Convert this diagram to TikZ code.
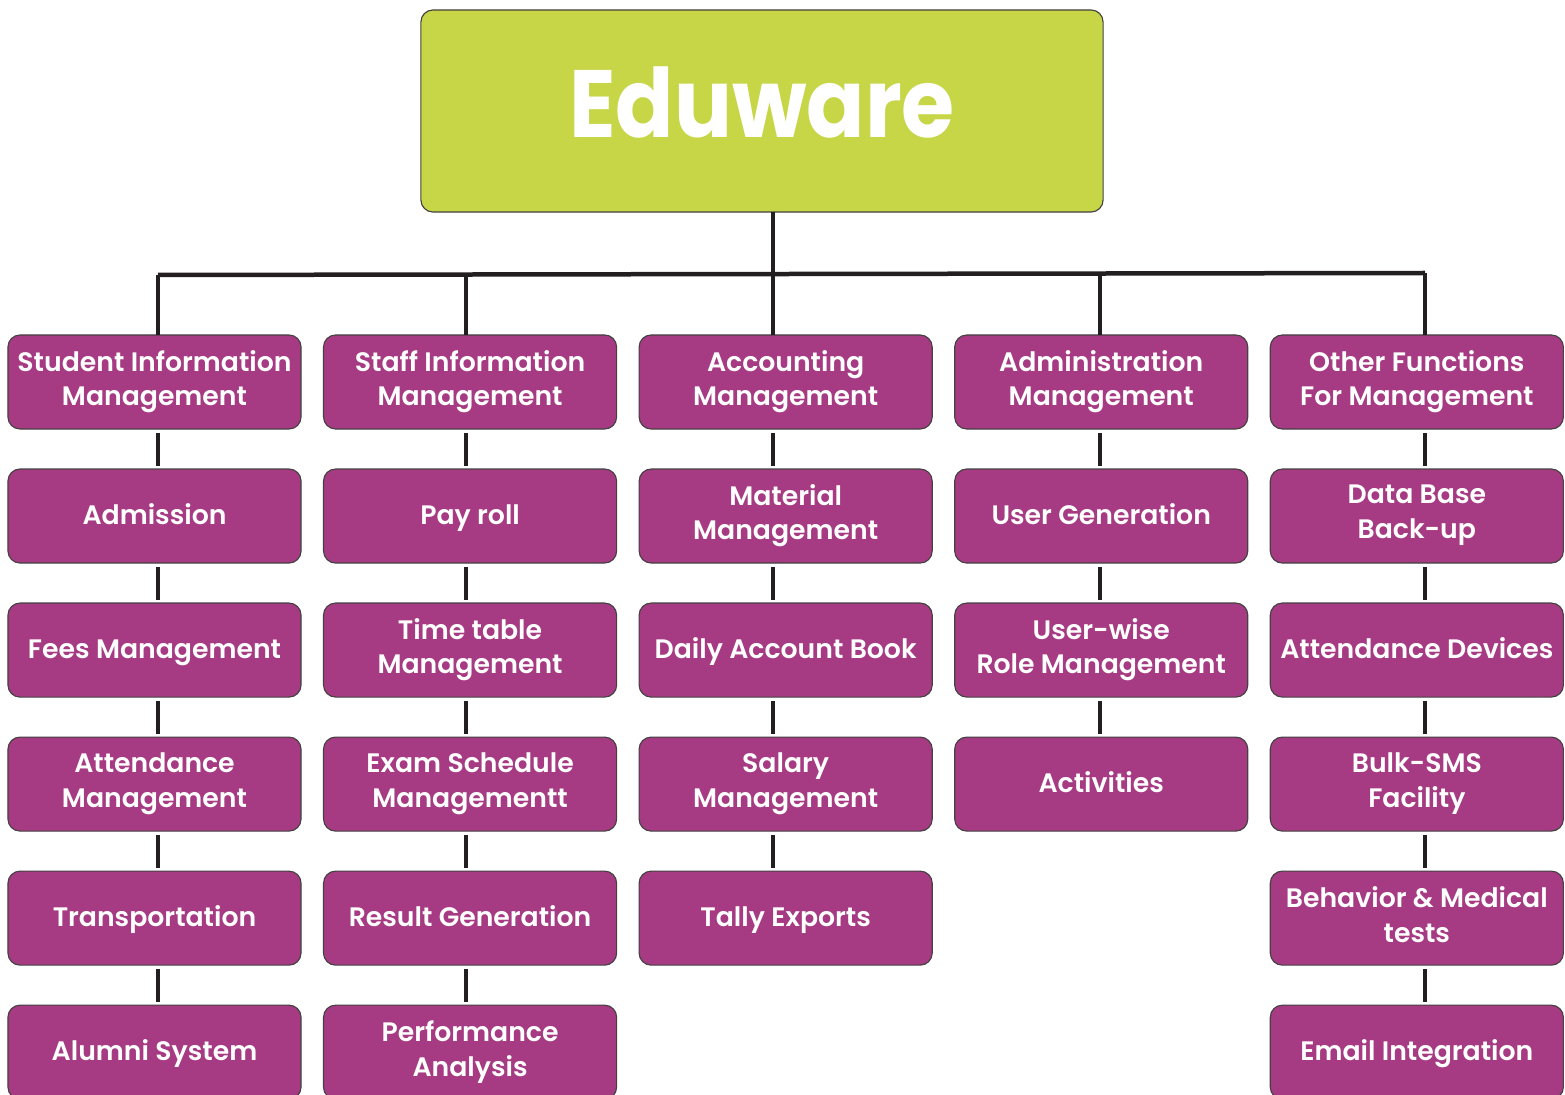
\documentclass[tikz,border=0pt]{standalone}
\usepackage{fontspec}
\setmainfont{Poppins}[UprightFont={* SemiBold}, BoldFont={* Bold}]
\usetikzlibrary{positioning}

\definecolor{plum}{HTML}{A63B83}
\definecolor{lime}{HTML}{C6D646}
\definecolor{ink}{HTML}{231F20}

% Strut that gives every label the same top and bottom line
\newcommand{\boxstrut}{\rule[-0.2cm]{0pt}{0.8cm}}

\begin{document}
\begin{tikzpicture}[x=0.025cm, y=-0.025cm,
    % Styles for the root box, the module boxes and the wires
    root/.style={
      rectangle, rounded corners=0.3cm, draw=ink!85, line width=0.8pt,
      fill=lime, text=white, minimum width=17.05cm, minimum height=5.05cm,
      outer sep=0pt, text height=1.8cm, text depth=0.5cm,
      font=\bfseries\fontsize{68}{80}\selectfont
    },
    module/.style={
      rectangle, rounded corners=0.3cm, draw=ink!85, line width=0.8pt,
      fill=plum, text=white, minimum width=7.325cm, minimum height=2.35cm,
      inner sep=0pt, outer sep=0pt, align=center,
      font=\fontsize{19}{24.8}\selectfont,
      execute at begin node=\boxstrut, execute at end node=\boxstrut
    },
    wire/.style={draw=ink, line width=3.2pt},
    link/.style={wire, shorten <=0.1cm, shorten >=0.075cm}
]
\useasboundingbox (0,0) rectangle (1565,1095);
\clip (0,0) rectangle (1565,1095);

% Root node
\node [root] (eduware) at (762,111) {\scalebox{0.9}[1]{Eduware}};

% Top row of modules
\node [module] (student) at (154.5,382) {Student Information\\Management};
\node [module, right=0.5625cm of student] (staff) {Staff Information\\Management};
\node [module, right=0.5625cm of staff] (accounting) {Accounting\\Management};
\node [module, right=0.5625cm of accounting] (administration) {Administration\\Management};
\node [module, right=0.5625cm of administration] (other) {Other Functions\\For Management};

% Column 1: student information
\node [module, below=1cm of student] (admission) {Admission};
\node [module, below=1cm of admission] (fees) {Fees Management};
\node [module, below=1cm of fees] (attendance) {Attendance\\Management};
\node [module, below=1cm of attendance] (transport) {Transportation};
\node [module, below=1cm of transport] (alumni) {Alumni System};

% Column 2: staff information
\node [module, below=1cm of staff] (payroll) {Pay roll};
\node [module, below=1cm of payroll] (timetable) {Time table\\Management};
\node [module, below=1cm of timetable] (exam) {Exam Schedule\\Managementt};
\node [module, below=1cm of exam] (result) {Result Generation};
\node [module, below=1cm of result] (performance) {Performance\\Analysis};

% Column 3: accounting
\node [module, below=1cm of accounting] (material) {Material\\Management};
\node [module, below=1cm of material] (daybook) {Daily Account Book};
\node [module, below=1cm of daybook] (salary) {Salary\\Management};
\node [module, below=1cm of salary] (tally) {Tally Exports};

% Column 4: administration
\node [module, below=1cm of administration] (usergen) {User Generation};
\node [module, below=1cm of usergen] (roles) {User-wise\\Role Management};
\node [module, below=1cm of roles] (activities) {Activities};

% Column 5: other functions
\node [module, below=1cm of other] (backup) {Data Base\\Back-up};
\node [module, below=1cm of backup] (devices) {Attendance Devices};
\node [module, below=1cm of devices] (sms) {Bulk-SMS\\Facility};
\node [module, below=1cm of sms] (medical) {Behavior \& Medical\\tests};
\node [module, below=1cm of medical] (email) {Email Integration};

% Bus under the root box, one drop point per column
\coordinate (bus1) at (158,275);
\coordinate (bus2) at (466,275);
\coordinate (bus3) at (773,274);
\coordinate (bus4) at (1100,273);
\coordinate (bus5) at (1425,273);

\draw [wire] (bus3 |- eduware.south) -- (bus3);
\draw [wire] (bus1) -- (bus5);
\draw [wire] (bus1) -- (bus1 |- student.north);
\draw [wire] (bus2) -- (bus2 |- staff.north);
\draw [wire] (bus3) -- (bus3 |- accounting.north);
\draw [wire] (bus4) -- (bus4 |- administration.north);
\draw [wire] (bus5) -- (bus5 |- other.north);

% Links down each column
\draw [link] (bus1 |- student.south) -- (bus1 |- admission.north);
\draw [link] (bus1 |- admission.south) -- (bus1 |- fees.north);
\draw [link] (bus1 |- fees.south) -- (bus1 |- attendance.north);
\draw [link] (bus1 |- attendance.south) -- (bus1 |- transport.north);
\draw [link] (bus1 |- transport.south) -- (bus1 |- alumni.north);

\draw [link] (bus2 |- staff.south) -- (bus2 |- payroll.north);
\draw [link] (bus2 |- payroll.south) -- (bus2 |- timetable.north);
\draw [link] (bus2 |- timetable.south) -- (bus2 |- exam.north);
\draw [link] (bus2 |- exam.south) -- (bus2 |- result.north);
\draw [link] (bus2 |- result.south) -- (bus2 |- performance.north);

\draw [link] (bus3 |- accounting.south) -- (bus3 |- material.north);
\draw [link] (bus3 |- material.south) -- (bus3 |- daybook.north);
\draw [link] (bus3 |- daybook.south) -- (bus3 |- salary.north);
\draw [link] (bus3 |- salary.south) -- (bus3 |- tally.north);

\draw [link] (bus4 |- administration.south) -- (bus4 |- usergen.north);
\draw [link] (bus4 |- usergen.south) -- (bus4 |- roles.north);
\draw [link] (bus4 |- roles.south) -- (bus4 |- activities.north);

\draw [link] (bus5 |- other.south) -- (bus5 |- backup.north);
\draw [link] (bus5 |- backup.south) -- (bus5 |- devices.north);
\draw [link] (bus5 |- devices.south) -- (bus5 |- sms.north);
\draw [link] (bus5 |- sms.south) -- (bus5 |- medical.north);
\draw [link] (bus5 |- medical.south) -- (bus5 |- email.north);

\end{tikzpicture}
\end{document}
